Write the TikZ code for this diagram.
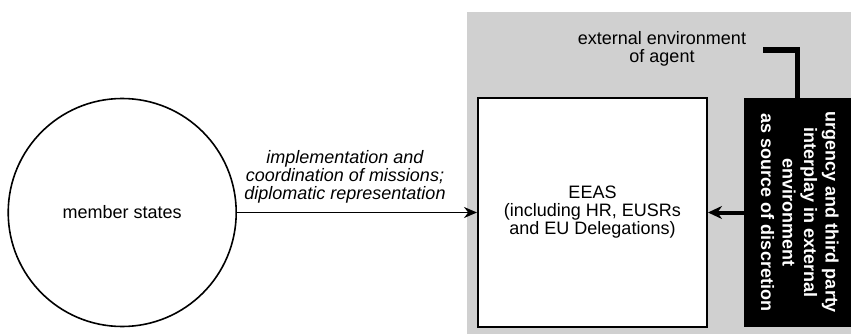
\documentclass[tikz,border=0pt]{standalone}
\usepackage{fontspec}
\setmainfont{Liberation Sans}
\usepackage{graphicx}
\usetikzlibrary{positioning,arrows.meta}
\definecolor{envgray}{RGB}{208,208,208}
\tikzset{
  agent/.style={draw, line width=2pt, fill=white, minimum width=229pt, minimum height=229pt, inner sep=0pt},
  principal/.style={circle, draw, line width=1.6pt, minimum size=228pt, inner sep=0pt},
  discretion/.style={fill=black, text=white, font=\bfseries\fontsize{18}{21.5}\selectfont, minimum width=107pt, minimum height=229pt, inner sep=0pt},
  delegate/.style={-{Stealth[length=13pt,width=11pt]}, line width=1.4pt},
  pressure/.style={-{Stealth[length=14pt,width=13pt]}, line width=4pt},
}
\begin{document}
\begin{tikzpicture}[x=1pt, y=1pt, font=\fontsize{18}{18}\selectfont]
        \useasboundingbox (0,0) rectangle (851,335);
        % external environment
        \fill[envgray] (467,1) rectangle (851,323);
        % Define nodes
        \node[agent, align=center] (eeas) at (592.5,122.5) {EEAS\\(including HR, EUSRs\\and EU Delegations)}; %
        \node[principal, left=240pt of eeas] (member) {member states}; %
        \node[discretion, right=36pt of eeas] (urgency) {\rotatebox{-90}{\begin{tabular}{@{}c@{}}urgency and third party\\interplay in external\\environment\\as source of discretion\end{tabular}}}; %
        \node[align=center] (extenv) at (662,286) {external environment\\of agent}; %
        \coordinate (hook) at (763,285);
        % Define edges
        \draw[delegate] (member) -- node[above=5pt, pos=0.45, align=center, font=\itshape\fontsize{18}{18}\selectfont] {implementation and\\coordination of missions;\\diplomatic representation} (eeas);
        \draw[pressure] (urgency) -- (eeas);
        \draw[line width=5.5pt] (hook) -| (urgency.north);
    \end{tikzpicture}
\end{document}
